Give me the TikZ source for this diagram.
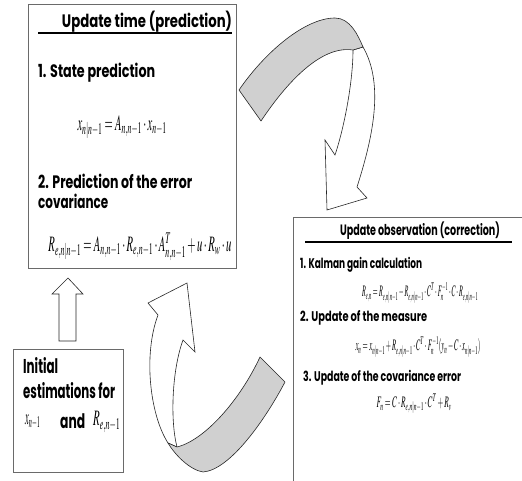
\documentclass[tikz,border=0pt]{standalone}
\usepackage{mathptmx}
\usepackage{fontspec}
\usepackage{graphicx}
\newfontfamily\gothic{Poppins}
\newcommand\fw[2]{\resizebox{#1}{\height}{#2}}
\definecolor{boxgray}{HTML}{6A6A6A}
\definecolor{band}{HTML}{D0D0D0}
\tikzset{
  box/.style={draw=boxgray, line width=0.9pt, fill=white, inner sep=0pt, anchor=north west},
  lblA/.style={inner sep=0pt, anchor=west, font={\gothic\bfseries\fontsize{18}{18}\selectfont}},
  ttlA/.style={inner sep=0pt, font={\gothic\bfseries\fontsize{18}{18}\selectfont}},
  lblB/.style={inner sep=0pt, anchor=west, font={\gothic\bfseries\fontsize{14}{14}\selectfont}},
  ttlB/.style={inner sep=0pt, font={\gothic\bfseries\fontsize{15}{15}\selectfont}},
  lblC/.style={inner sep=0pt, anchor=west, font={\gothic\bfseries\fontsize{20}{20}\selectfont}},
  eqA/.style={inner sep=0pt, font={\fontsize{22}{22}\selectfont}},
  eqB/.style={inner sep=0pt, font={\fontsize{16}{16}\selectfont}},
  uline/.style={line width=1.5pt, black},
  ribbon/.style={draw=black!85, line width=0.6pt, fill=band, line join=round},
  hollow/.style={draw=black!85, line width=0.6pt, fill=white, line join=miter},
}
\begin{document}
\begin{tikzpicture}[x=1pt,y=-1pt]
\useasboundingbox (0,0) rectangle (522,481);
\clip (0,0) rectangle (522,481);

% boxes
\node[box, minimum width=208pt, minimum height=264pt] (pred) at (28,4) {};
\node[box, minimum width=110pt, minimum height=123pt] (init) at (13,349) {};
\node[box, minimum width=250pt, minimum height=290pt] (corr) at (293,217) {};

% prediction box
\node[ttlA] (t1) at (147,22) {\fw{170pt}{Update time (prediction)}};
\draw[uline] (38,33) -- (232,33);
\node[lblA] (s1) at (38,73) {\fw{117pt}{1. State prediction}};
\node[eqA] (e1) at (122,127) {\fw{89pt}{$x_{n|n-1}=A_{n,n-1}\cdot x_{n-1}$}};
\node[lblA] (s2) at (38,181) {\fw{154pt}{2. Prediction of the error}};
\node[lblA] (s2b) at (38,201) {\fw{70pt}{covariance}};
\node[eqA] (e2) at (140,247) {\fw{183pt}{$R_{e,n|n-1}=A_{n,n-1}\cdot R_{e,n-1}\cdot A^{T}_{n,n-1}+u\cdot R_{w}\cdot u$}};

% correction box
\node[ttlB] (t2) at (420,231) {\fw{160pt}{Update observation (correction)}};
\draw[uline] (305,242) -- (512,242);
\node[lblB] (k1) at (300,265) {\fw{122pt}{1. Kalman gain calculation}};
\node[eqB] (e3) at (420,293) {\fw{116pt}{$R_{e,n}=R_{e,n|n-1}-R_{e,n|n-1}\cdot C^{T}\cdot F_{n}^{-1}\cdot C\cdot R_{e,n|n-1}$}};
\node[lblB] (k2) at (300,318) {\fw{127pt}{2. Update of the measure}};
\node[eqB] (e4) at (418,347) {\fw{125pt}{$x_{n}=x_{n|n-1}+R_{e,n|n-1}\cdot C^{T}\cdot F_{n}^{-1}(y_{n}-C\cdot x_{n|n-1})$}};
\node[lblB] (k3) at (303,378) {\fw{158pt}{3. Update of the covariance error}};
\node[eqB] (e5) at (414,404) {\fw{75pt}{$F_{n}=C\cdot R_{e,n|n-1}\cdot C^{T}+R_{v}$}};

% initial box
\node[lblC] (i1) at (23,366) {\fw{35pt}{Initial}};
\node[lblC] (i2) at (23,391) {\fw{92pt}{estimations for}};
\node[eqA, anchor=west] (ix) at (25,422) {\fw{15pt}{$x_{n-1}$}};
\node[lblC] (iand) at (60,421) {\fw{25pt}{and}};
\node[eqA, anchor=west] (iR) at (93,422) {\fw{27pt}{$R_{e,n-1}$}};

% hollow up arrow
\draw[hollow] (59,341) -- (59,294) -- (52,294) -- (68,278) -- (83,294) -- (76,294) -- (76,341) -- cycle;

% top curved arrow
\draw[hollow] (353,50) .. controls (353,80) and (345,125) .. (335,155)
  -- (325,140) -- (327,210) -- (367,198) -- (357,187)
  .. controls (372,140) and (385,85) .. (363,47) -- cycle;
\draw[ribbon] (239,90) .. controls (265,52) and (305,18) .. (335,18)
  .. controls (350,18) and (358,35) .. (363,47) -- (353,50)
  .. controls (320,45) and (285,85) .. (261,121) -- cycle;

% bottom curved arrow
\draw[hollow] (168,443) .. controls (150,415) and (143,355) .. (158,315)
  -- (148,303) -- (187,283) -- (195,352) -- (183,340)
  .. controls (172,370) and (170,420) .. (177,447) -- cycle;
\draw[ribbon] (260,357) -- (285,382) .. controls (265,420) and (230,470) .. (203,472)
  .. controls (190,470) and (175,455) .. (168,443) -- (177,447)
  .. controls (205,440) and (240,400) .. (260,357) -- cycle;
\end{tikzpicture}
\end{document}
